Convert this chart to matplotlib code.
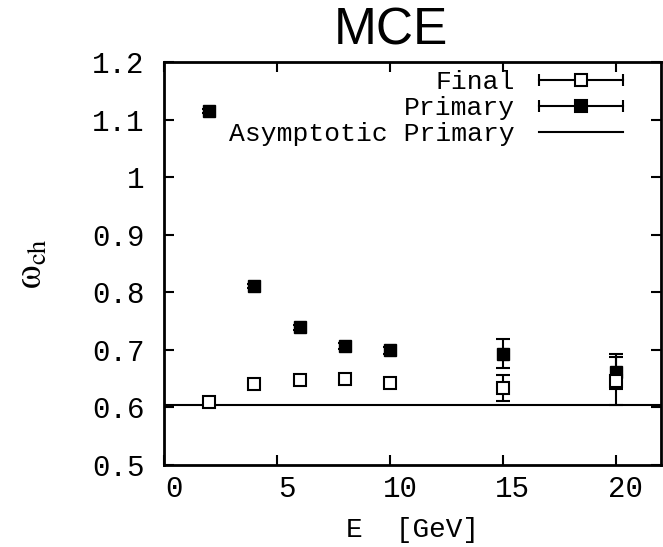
import matplotlib
matplotlib.use("Agg")
import matplotlib.pyplot as plt
from matplotlib.lines import Line2D
from matplotlib.legend_handler import HandlerBase
import matplotlib.transforms as mtransforms

# ---- data ----
energy = [2, 4, 6, 8, 10, 15, 20]
final_vals = [0.610, 0.641, 0.647, 0.650, 0.643, 0.634, 0.646]
final_err = [0.004, 0.005, 0.006, 0.006, 0.007, 0.022, 0.041]
primary_vals = [1.115, 0.811, 0.739, 0.707, 0.699, 0.693, 0.662]
primary_err = [0.003, 0.003, 0.004, 0.005, 0.006, 0.025, 0.030]
asymptotic = 0.604
xticks = [0, 5, 10, 15, 20]
yticks = [0.5, 0.6, 0.7, 0.8, 0.9, 1.0, 1.1, 1.2]
ytick_labels = ["0.5", "0.6", "0.7", "0.8", "0.9", "1", "1.1", "1.2"]

MONO = "Liberation Mono"
plt.rcParams["mathtext.fontset"] = "stix"

fig = plt.figure(figsize=(6.63, 5.47), dpi=100)
ax = fig.add_axes([164 / 663, 1 - 465 / 547, (661 - 164) / 663, (465 - 62) / 547])

ax.axhline(asymptotic, color="k", lw=1.5, zorder=1)
ax.errorbar(energy, primary_vals, yerr=primary_err, fmt="s", ms=8.5,
            mfc="k", mec="k", ecolor="k", elinewidth=1.5, capsize=5,
            capthick=1.5, zorder=3)
ax.errorbar(energy, final_vals, yerr=final_err, fmt="s", ms=8.5,
            mfc="white", mec="k", mew=1.5, ecolor="k", elinewidth=1.5,
            capsize=5, capthick=1.5, zorder=4)

ax.set_xlim(0, 22)
ax.set_ylim(0.5, 1.2)
ax.set_xticks(xticks)
ax.set_xticklabels([str(v) for v in xticks])
ax.set_yticks(yticks)
ax.set_yticklabels(ytick_labels)
ax.tick_params(direction="in", length=7, width=1.5, top=True, right=True,
               labelsize=21)
ax.tick_params(axis="x", pad=7)
ax.tick_params(axis="y", pad=14)
for lab in ax.get_xticklabels() + ax.get_yticklabels():
    lab.set_fontfamily(MONO)
offset = mtransforms.ScaledTranslation(10 / 100, 0, fig.dpi_scale_trans)
for lab in ax.get_xticklabels():
    lab.set_transform(lab.get_transform() + offset)
for sp in ax.spines.values():
    sp.set_linewidth(2)

ax.set_xlabel("E  [GeV]", fontfamily=MONO, fontsize=20, labelpad=10)
ax.set_ylabel(r"$\mathrm{\omega}_{\rm ch}$", fontsize=27, labelpad=30)
fig.text(391 / 663, 1 - 31 / 547, "MCE", ha="center", va="center",
         fontfamily="Liberation Sans", fontsize=37)


class ErrHandler(HandlerBase):
    def __init__(self, kind):
        super().__init__()
        self.kind = kind

    def create_artists(self, legend, orig_handle, xdescent, ydescent, width,
                       height, fontsize, trans):
        y = height / 2 - ydescent
        x0 = -xdescent
        x1 = x0 + width
        line = Line2D([x0, x1], [y, y], color="k", lw=1.5, transform=trans)
        arts = [line]
        if self.kind != "line":
            caps = Line2D([x0, x1], [y, y], ls="none", marker="|", ms=8,
                          mew=1.5, color="k", transform=trans)
            mk = Line2D([(x0 + x1) / 2], [y], ls="none", marker="s", ms=8.5,
                        mfc="white" if self.kind == "open" else "k",
                        mec="k", mew=1.5, transform=trans)
            arts += [caps, mk]
        return arts


h_final = Line2D([], [])
h_prim = Line2D([], [])
h_asym = Line2D([], [])
leg = ax.legend([h_final, h_prim, h_asym],
                ["Final", "Primary", "Asymptotic Primary"],
                handler_map={h_final: ErrHandler("open"),
                             h_prim: ErrHandler("filled"),
                             h_asym: ErrHandler("line")},
                loc="upper right", bbox_to_anchor=(1 - 38 / 497, 1 - 8 / 403),
                frameon=False, markerfirst=False, handlelength=3.2,
                handletextpad=0.9, labelspacing=0.08, borderaxespad=0,
                borderpad=0, prop={"family": MONO, "size": 19})

fig.savefig("out.png", dpi=100)
